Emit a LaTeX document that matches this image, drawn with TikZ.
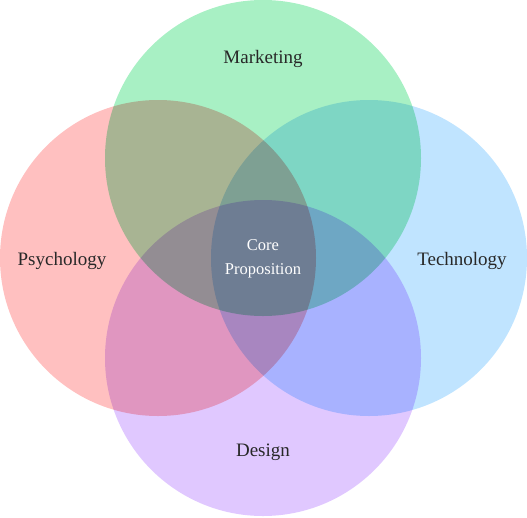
\documentclass[tikz,border=0pt]{standalone}
\usepackage{fontspec}
\setmainfont{Liberation Serif}
\definecolor{cgreen}{RGB}{168,240,196}
\definecolor{cred}{RGB}{255,192,192}
\definecolor{cblue}{RGB}{192,228,255}
\definecolor{cpurple}{RGB}{224,200,255}
\definecolor{ctext}{RGB}{40,40,40}
\begin{document}
\begin{tikzpicture}[x=1pt,y=-1pt,
  lbl/.style={text=ctext,font=\fontsize{19}{22}\selectfont},
  corelbl/.style={text=white,font=\fontsize{16.5}{24}\selectfont,align=center}]
\useasboundingbox (0,0) rectangle (527,517);
\begin{scope}[blend group=multiply]
\fill[cgreen] (263,158) circle (158);
\fill[cred] (158,258) circle (158);
\fill[cblue] (369,258) circle (158);
\fill[cpurple] (263,358) circle (158);
\end{scope}
\node[lbl] (mk) at (263,59) {Marketing};
\node[lbl] (ps) at (62,261) {Psychology};
\node[lbl] (te) at (462,261) {Technology};
\node[lbl] (de) at (263,452) {Design};
\node[corelbl] (core) at (263,259) {Core\\Proposition};
\end{tikzpicture}
\end{document}
